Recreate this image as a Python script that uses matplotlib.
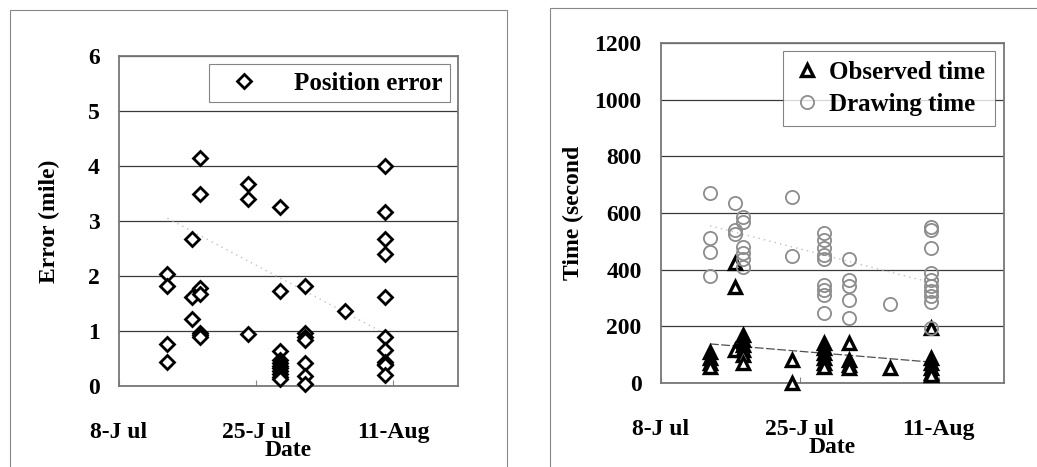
import matplotlib.pyplot as plt
from matplotlib.patches import Rectangle
import numpy as np
import pandas as pd

plt.rcParams['font.family'] = ['Liberation Serif', 'DejaVu Serif']
plt.rcParams['font.weight'] = 'bold'
plt.rcParams['axes.labelweight'] = 'bold'

# Dates on which samples were taken
obs_dates = ['2008-07-14', '2008-07-17', '2008-07-18', '2008-07-24',
             '2008-07-28', '2008-07-31', '2008-08-05', '2008-08-10']

# Position error (mile) per date
error_miles = [
    [2.04, 1.81, 0.76, 0.43],
    [2.67, 1.62, 1.22],
    [4.15, 3.50, 1.79, 1.68, 0.97, 0.93, 0.90],
    [3.68, 3.40, 0.94],
    [3.25, 1.72, 0.64, 0.47, 0.42, 0.37, 0.32, 0.27, 0.22, 0.17, 0.12],
    [1.81, 0.97, 0.90, 0.84, 0.41, 0.19, 0.04],
    [1.37],
    [4.00, 3.16, 2.68, 2.40, 1.61, 0.90, 0.65, 0.44, 0.40, 0.38, 0.20],
]

# Observed time (second) per date
observed_time = [
    [111, 87, 69, 58],
    [422, 340, 116],
    [169, 152, 134, 116, 99, 69],
    [81, 0],
    [140, 122, 105, 87, 69, 58],
    [140, 81, 64, 52],
    [52],
    [193, 87, 69, 52, 34, 28],
]

# Drawing time (second) per date
drawing_time = [
    [672, 511, 463, 378],
    [636, 540, 525],
    [587, 570, 481, 459, 436, 410],
    [655, 448],
    [528, 506, 477, 453, 436, 346, 328, 311, 248],
    [436, 364, 341, 293, 228],
    [279],
    [552, 540, 477, 387, 364, 341, 323, 306, 287, 195],
]

# trend lines (first and last date)
trend_dates = ['2008-07-14', '2008-08-10']
error_trend = [3.05, 0.95]
observed_trend = [138, 74]
drawing_trend = [555, 355]

x_ticks = ['2008-07-08', '2008-07-25', '2008-08-11']
x_tick_labels = ['8-J ul', '25-J ul', '11-Aug']
x_range = ['2008-07-08', '2008-08-19']


def flatten(dates, groups):
    xs, ys = [], []
    for d, vals in zip(dates, groups):
        xs += [pd.Timestamp(d)] * len(vals)
        ys += vals
    return np.array(xs), np.array(ys, dtype=float)


def style_axes(ax, ymax, ystep):
    ax.set_xlim(pd.Timestamp(x_range[0]), pd.Timestamp(x_range[1]))
    ax.set_ylim(0, ymax)
    ax.set_yticks(np.arange(0, ymax + 1e-9, ystep))
    ax.set_xticks([pd.Timestamp(t) for t in x_ticks])
    ax.set_xticklabels(x_tick_labels)
    ax.grid(axis='y', color='#3a3a3a', lw=0.9)
    ax.set_axisbelow(True)
    for s in ax.spines.values():
        s.set_color('#777777')
        s.set_linewidth(1.3)
    ax.tick_params(axis='x', direction='in', length=4, color='#888888',
                   pad=26, labelsize=17)
    ax.tick_params(axis='y', length=0, pad=14, labelsize=17)


fig = plt.figure(figsize=(10.37, 4.67), dpi=100)

# panel frames
fig.patches.append(Rectangle((10 / 1037, -0.01), 497 / 1037, 1 - 10 / 467 + 0.01,
                             transform=fig.transFigure, fill=False,
                             edgecolor='#888888', lw=0.8))
fig.patches.append(Rectangle((550 / 1037, -0.01), 0.5, 1 - 8 / 467 + 0.01,
                             transform=fig.transFigure, fill=False,
                             edgecolor='#888888', lw=0.8))
tdates = [pd.Timestamp(d) for d in trend_dates]

# ---- left: position error
ax1 = fig.add_axes([119 / 1037, 1 - 386 / 467, 339 / 1037, 330 / 467])
ex, ey = flatten(obs_dates, error_miles)
ax1.plot(tdates, error_trend, color='#c0c0c0', lw=1, ls=(0, (1, 3)), zorder=2)
ax1.plot(ex, ey, ls='none', marker='D', ms=7, mfc='white', mec='black',
         mew=2, label='Position error', zorder=3, clip_on=False)
style_axes(ax1, 6, 1)
ax1.set_ylabel('Error (mile)', fontsize=17)
ax1.yaxis.set_label_coords(-0.175, 0.5)
ax1.set_xlabel('Date', fontsize=17)
ax1.xaxis.set_label_coords(0.5, -0.165)
leg1 = ax1.legend(loc='upper right', bbox_to_anchor=(0.975, 0.975),
                  borderaxespad=0, fancybox=False, fontsize=18,
                  handletextpad=0.9, borderpad=0.3, handlelength=2.2)
leg1.get_frame().set_edgecolor('#666666')
leg1.get_frame().set_linewidth(0.8)

# ---- right: times
ax2 = fig.add_axes([661 / 1037, 1 - 383 / 467, 343 / 1037, 340 / 467])
tx, ty = flatten(obs_dates, observed_time)
dx, dy = flatten(obs_dates, drawing_time)
ax2.plot(tdates, observed_trend, color='#505050', lw=0.9, ls=(0, (7, 2)), zorder=2)
ax2.plot(tdates, drawing_trend, color='#c0c0c0', lw=1, ls=(0, (1, 3)), zorder=2)
ax2.plot(tx, ty, ls='none', marker='^', ms=9, mfc='white', mec='black',
         mew=2.4, label='Observed time', zorder=3, clip_on=False)
ax2.plot(dx, dy, ls='none', marker='o', ms=9.5, mfc='none', mec='#8c8c8c',
         mew=1.3, label='Drawing time', zorder=4, clip_on=False)
style_axes(ax2, 1200, 200)
ax2.set_ylabel('Time (second', fontsize=17)
ax2.yaxis.set_label_coords(-0.225, 0.5)
ax2.set_xlabel('Date', fontsize=17)
ax2.xaxis.set_label_coords(0.5, -0.16)
leg2 = ax2.legend(loc='upper right', bbox_to_anchor=(0.975, 0.977),
                  borderaxespad=0, fancybox=False, fontsize=18,
                  handletextpad=0.35, borderpad=0.4, handlelength=1.1,
                  labelspacing=0.35)
leg2.get_frame().set_edgecolor('#666666')
leg2.get_frame().set_linewidth(0.8)

fig.savefig('out.png', dpi=100)
